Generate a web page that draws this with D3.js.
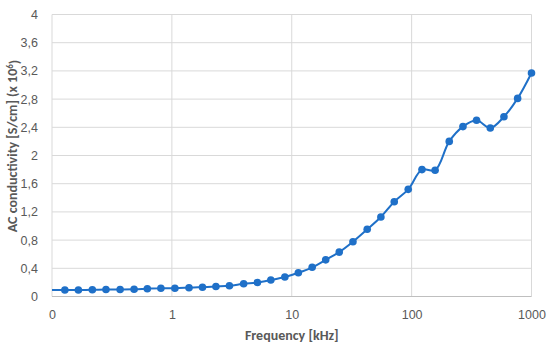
<!DOCTYPE html>
<html>
<head>
<meta charset="utf-8">
<script src="https://cdn.jsdelivr.net/npm/d3@7"></script>
<style>
  body { margin: 0; background: #fff; }
  svg { display: block; font-family: Calibri, Carlito, "Liberation Sans", Arial, sans-serif; }
  .tick text { fill: #595959; font-size: 12.5px; }
  .title { fill: #595959; font-size: 14px; font-weight: bold; }
</style>
</head>
<body>
<div id="chart"></div>
<script>
// frequency in kHz, conductivity (x 10^6)
var freq = [0.1, 0.128, 0.166, 0.217, 0.282, 0.37, 0.484, 0.624, 0.81, 1.06, 1.39, 1.8,
  2.33, 3.02, 3.97, 5.17, 6.69, 8.76, 11.35, 14.8, 19.2, 24.9, 32.4, 42.6, 55.4, 71.6,
  93.7, 122, 157, 206, 268, 348, 453, 589, 766, 1000];
var cond = [0.092, 0.092, 0.092, 0.095, 0.1, 0.1, 0.102, 0.11, 0.117, 0.118, 0.125, 0.132,
  0.142, 0.152, 0.18, 0.199, 0.234, 0.276, 0.337, 0.414, 0.52, 0.63, 0.777, 0.953, 1.128, 1.345,
  1.52, 1.8, 1.79, 2.2, 2.41, 2.5, 2.39, 2.55, 2.81, 3.17];

var xTicks = [0.1, 1, 10, 100, 1000];
var xTickLabels = ["0", "1", "10", "100", "1000"];
var yTicks = [0, 0.4, 0.8, 1.2, 1.6, 2, 2.4, 2.8, 3.2, 3.6, 4];

var width = 550, height = 349;
var plotLeft = 52, plotRight = 531.5, plotTop = 14.5, plotBottom = 296.5;

var svg = d3.select("#chart").append("svg")
  .attr("width", width)
  .attr("height", height);

var x = d3.scaleLog().domain([0.1, 1000]).range([plotLeft, plotRight]);
var y = d3.scaleLinear().domain([0, 4]).range([plotBottom, plotTop]);

// gridlines
svg.append("g")
  .selectAll("line")
  .data(yTicks.slice(1))
  .enter().append("line")
  .attr("x1", plotLeft).attr("x2", plotRight)
  .attr("y1", function(d) { return y(d); })
  .attr("y2", function(d) { return y(d); })
  .style("stroke", "#d9d9d9")
  .style("stroke-width", 1);

svg.append("g")
  .selectAll("line")
  .data(xTicks)
  .enter().append("line")
  .attr("x1", function(d) { return x(d); })
  .attr("x2", function(d) { return x(d); })
  .attr("y1", plotTop).attr("y2", plotBottom)
  .style("stroke", "#d9d9d9")
  .style("stroke-width", 1);

// bottom axis line
svg.append("line")
  .attr("x1", plotLeft).attr("x2", plotRight)
  .attr("y1", plotBottom).attr("y2", plotBottom)
  .style("stroke", "#bfbfbf")
  .style("stroke-width", 1);

var xAxis = svg.append("g")
  .attr("transform", "translate(0," + (plotBottom + 11) + ")")
  .call(d3.axisBottom(x)
    .tickValues(xTicks)
    .tickFormat(function(d, i) { return xTickLabels[i]; })
    .tickSize(0));
xAxis.select(".domain").remove();

var yAxis = svg.append("g")
  .attr("transform", "translate(" + (plotLeft - 11) + ",0)")
  .call(d3.axisLeft(y)
    .tickValues(yTicks)
    .tickFormat(function(d) { return String(+d.toFixed(1)).replace(".", ","); })
    .tickSize(0));
yAxis.select(".domain").remove();

// series
var line = d3.line()
  .x(function(d, i) { return x(freq[i]); })
  .y(function(d) { return y(d); })
  .curve(d3.curveCatmullRom.alpha(0.5));

svg.append("path")
  .datum(cond)
  .attr("d", line)
  .style("fill", "none")
  .style("stroke", "#1f70c8")
  .style("stroke-width", 2);

svg.append("g")
  .selectAll("circle")
  .data(cond.slice(1))
  .enter().append("circle")
  .attr("cx", function(d, i) { return x(freq[i + 1]); })
  .attr("cy", function(d) { return y(d); })
  .attr("r", 3.8)
  .style("fill", "#1f70c8");

// titles
svg.append("text")
  .attr("class", "title")
  .attr("x", (plotLeft + plotRight) / 2)
  .attr("y", 340)
  .attr("text-anchor", "middle")
  .text("Frequency [kHz]");

var yt = svg.append("text")
  .attr("class", "title")
  .attr("transform", "translate(17,146) rotate(-90)")
  .attr("text-anchor", "middle");
yt.append("tspan").text("AC conductivity [S/cm] (x 10");
yt.append("tspan").attr("dy", "-0.45em").style("font-size", "9px").text("6");
yt.append("tspan").attr("dy", "0.45em").text(")");
</script>
</body>
</html>
